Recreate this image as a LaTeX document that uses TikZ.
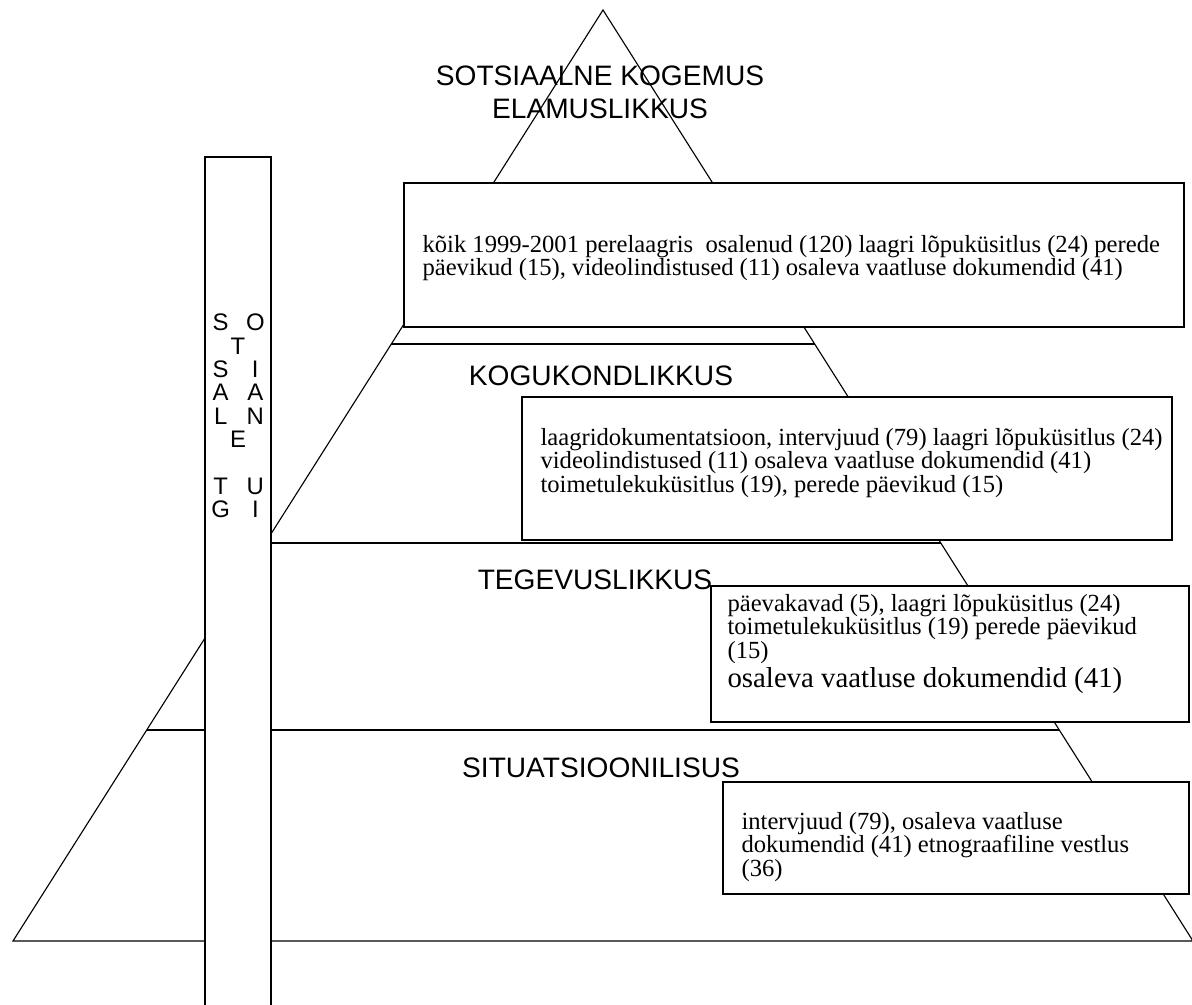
\documentclass[tikz,border=0pt]{standalone}
\usepackage{fontspec}
\setmainfont{Liberation Serif}
\newfontfamily\arialfont{Liberation Sans}
\usetikzlibrary{calc}
\newcommand{\tp}[2]{\makebox[1.45em]{#1}\makebox[1.45em]{#2}}

\begin{document}
\begin{tikzpicture}[x=0.025cm,y=-0.025cm,line width=0.8pt,
    level/.style={font=\arialfont\fontsize{20}{23.5}\selectfont,align=center,inner sep=0pt},
    src/.style={draw,fill=white,line width=0.9pt},
    srctext/.style={font=\fontsize{17.5}{16.6}\selectfont,align=left,anchor=west,inner sep=0pt}]
  \useasboundingbox (0,0) rectangle (1192,1005);
  \coordinate (apex) at (603,10);
  \coordinate (bl) at (13,941);
  \coordinate (br) at (1193,941);
  % pyramid
  \draw (apex) -- (bl) -- (br) -- cycle;
  \draw ($(apex)!0.3588!(bl)$) -- ($(apex)!0.3588!(br)$);
  \draw ($(apex)!0.5725!(bl)$) -- ($(apex)!0.5725!(br)$);
  \draw ($(apex)!0.7734!(bl)$) -- ($(apex)!0.7734!(br)$);
  \node[level] (elam) at (600,92) {SOTSIAALNE KOGEMUS\\ELAMUSLIKKUS};
  \node[level] (kogu) at (601,376) {KOGUKONDLIKKUS};
  \node[level] (tege) at (595,580) {TEGEVUSLIKKUS};
  \node[level] (situ) at (601,768) {SITUATSIOONILISUS};
  % sources
  \draw[src] (404,183) rectangle (1184,327);
  \node[srctext] (src1) at (422,258) {k\~oik 1999-2001 perelaagris \ osalenud (120) laagri lõpuküsitlus (24) perede\\päevikud (15), videolindistused (11) osaleva vaatluse dokumendid (41)};
  \draw[src] (522,397) rectangle (1172,540);
  \node[srctext] (src2) at (540,463) {laagridokumentatsioon, intervjuud (79) laagri lõpuküsitlus (24)\\videolindistused (11) osaleva vaatluse dokumendid (41)\\toimetulekuküsitlus (19), perede päevikud (15)};
  \draw[src] (711,586) rectangle (1189,722);
  \node[srctext] (src3) at (727,644) {päevakavad (5), laagri lõpuküsitlus (24)\\toimetulekuküsitlus (19) perede päevikud\\(15)\\[2pt]{\fontsize{20.5}{24}\selectfont osaleva vaatluse dokumendid (41)}};
  \draw[src] (723,782) rectangle (1189,894);
  \node[srctext] (src4) at (741,847) {intervjuud (79), osaleva vaatluse\\dokumendid (41) etnograafiline vestlus\\(36)};
  % support
  \draw[src] (205,157) rectangle (271,1015);
  \node[font=\arialfont\fontsize{17}{16.6}\selectfont,align=center,inner sep=0pt] (tugi) at (238,416)
    {\tp{S}{O}\\T\\\tp{S}{I}\\\tp{A}{A}\\\tp{L}{N}\\E\\\mbox{}\\\tp{T}{U}\\\tp{G}{I}};
\end{tikzpicture}
\end{document}
